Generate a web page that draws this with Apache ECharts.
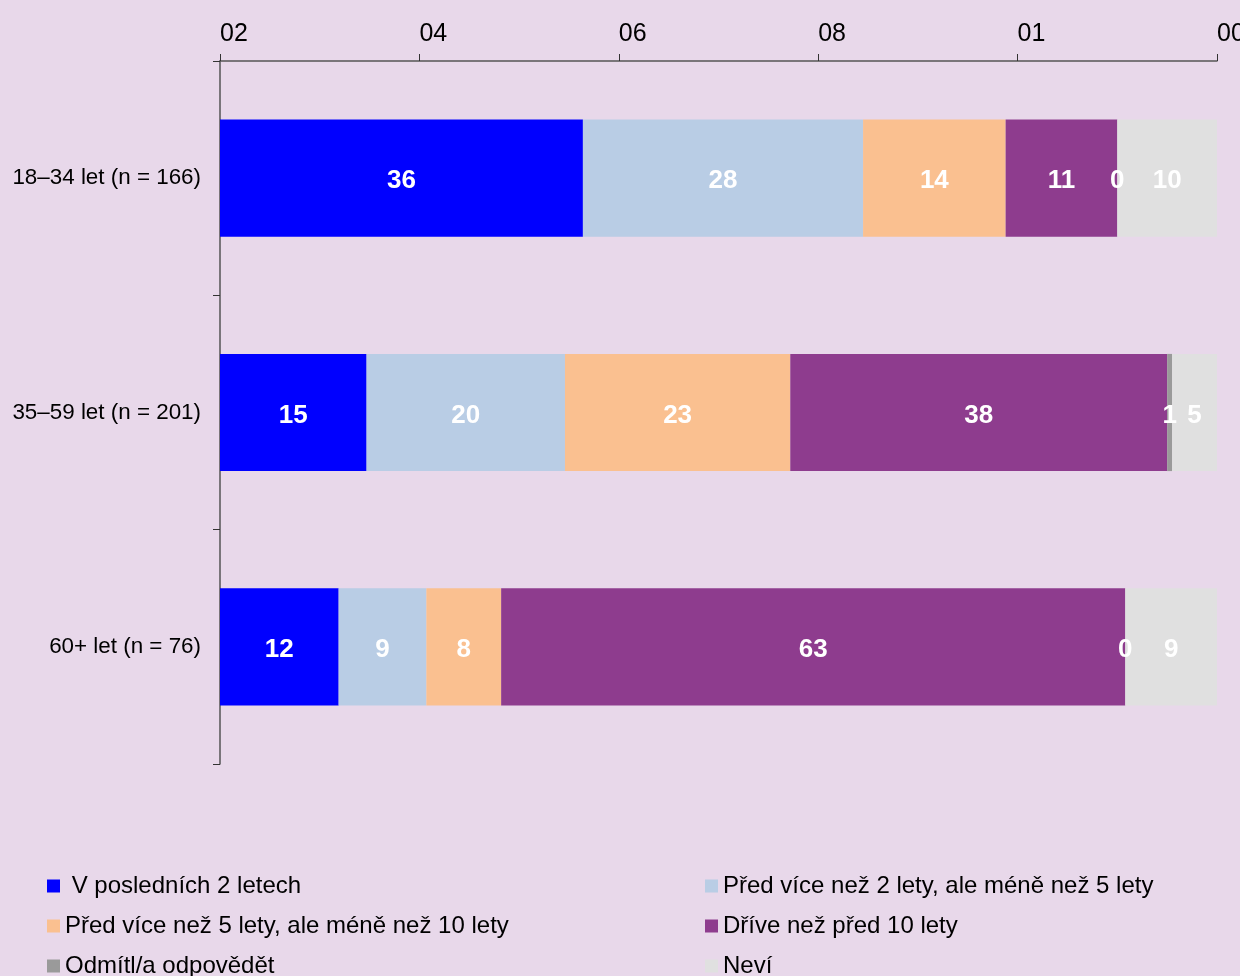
<!DOCTYPE html>
<html>
<head>
<meta charset="utf-8">
<script src="https://cdn.jsdelivr.net/npm/echarts@6/dist/echarts.min.js"></script>
<style>
html,body{margin:0;padding:0;background:#e8d8ea;}
#c{width:1240px;height:976px;}
</style>
</head>
<body>
<div id="c"></div>
<script>
const categories = ['18–34 let (n = 166)', '35–59 let (n = 201)', '60+ let (n = 76)'];
const seriesNames = [' V posledních 2 letech', 'Před více než 2 lety, ale méně než 5 lety', 'Před více než 5 lety, ale méně než 10 lety', 'Dříve než před 10 lety', 'Odmítl/a odpovědět', 'Neví'];
const v2let = [36.4, 14.7, 11.9];
const v2to5 = [28.1, 19.9, 8.8];
const v5to10 = [14.3, 22.6, 7.5];
const vOver10 = [11.2, 37.8, 62.6];
const vRefused = [0, 0.5, 0];
const vDontKnow = [10.0, 4.5, 9.2];
const tickLabels = ['02', '04', '06', '08', '01', '00'];
const colors = ['#0000ff', '#b9cde5', '#fac090', '#8e3c8e', '#9a9a9a', '#e0e0e0'];

const allValues = [v2let, v2to5, v5to10, vOver10, vRefused, vDontKnow];
const FONT = "'Liberation Sans', Arial, sans-serif";

const series = allValues.map((vals, i) => ({
  name: seriesNames[i],
  type: 'bar',
  stack: 'total',
  barWidth: '50%',
  data: vals,
  itemStyle: { color: colors[i] },
  label: {
    show: true,
    position: 'inside',
    offset: [0, 3],
    color: '#ffffff',
    fontFamily: FONT,
    fontWeight: 'bold',
    fontSize: 26,
    formatter: p => String(Math.round(p.value))
  }
}));

// legend layout: two columns, three rows
const legendCols = [47, 705];
const legendRows = [874, 914, 954];
const legends = seriesNames.map((name, i) => ({
  data: [name],
  orient: 'horizontal',
  left: legendCols[i % 2],
  top: legendRows[Math.floor(i / 2)],
  padding: 0,
  icon: 'rect', itemWidth: 13, itemHeight: 13,
  textStyle: { color: '#000000', fontFamily: FONT, fontSize: 24, padding: [0, 0, 0, 0] }
}));

const chart = echarts.init(document.getElementById('c'));
chart.setOption({
  backgroundColor: '#e8d8ea',
  animation: false,
  grid: { left: 220, right: 23, top: 61, bottom: 212, outerBoundsMode: 'none', containLabel: false },
  xAxis: {
    type: 'value',
    position: 'top',
    min: 0, max: 100, interval: 20,
    splitLine: { show: false },
    axisLine: { show: true, lineStyle: { color: '#555555', width: 1.5 } },
    axisTick: { show: true, length: 7, lineStyle: { color: '#333333' } },
    axisLabel: {
      color: '#000000', fontFamily: FONT, fontSize: 25, margin: 14, align: 'left',
      formatter: v => tickLabels[Math.round(v / 20)]
    }
  },
  yAxis: {
    type: 'category',
    inverse: true,
    data: categories,
    axisLine: { show: true, lineStyle: { color: '#555555', width: 1.5 } },
    axisTick: { show: true, length: 7, lineStyle: { color: '#333333' } },
    axisLabel: { color: '#000000', fontFamily: FONT, fontSize: 22.4, margin: 19 }
  },
  legend: legends,
  series: series
});
</script>
</body>
</html>
